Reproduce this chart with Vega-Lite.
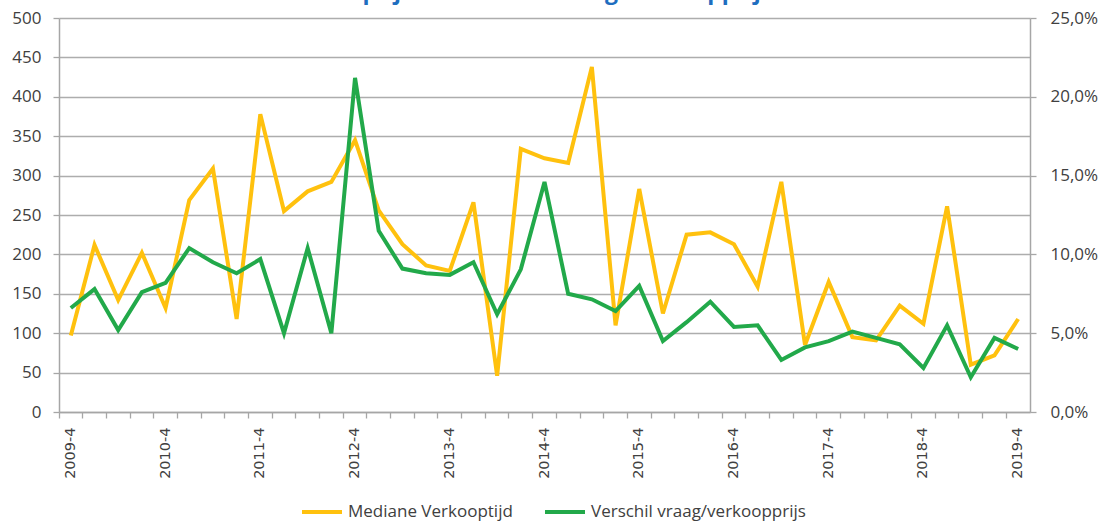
{
  "$schema": "https://vega.github.io/schema/vega-lite/v6.json",
  "width": 971,
  "height": 394,
  "autosize": {"type": "none"},
  "padding": {"left": 59, "top": 18, "right": 68, "bottom": 111},
  "background": "white",
  "title": {
    "text": "Verkooptijd en Verschil vraag/verkoopprijs",
    "fontSize": 23,
    "font": "Open Sans",
    "fontWeight": "bold",
    "color": "#1F6EBF",
    "anchor": "middle",
    "frame": "group",
    "baseline": "alphabetic",
    "offset": -13,
    "dx": -18
  },
  "config": {
    "view": {"stroke": null},
    "font": "Open Sans"
  },
  "data": {
    "values": [
      {"kwartaal": "2009-4", "tijd": 97, "verschil": 6.6},
      {"kwartaal": "2010-1", "tijd": 212, "verschil": 7.8},
      {"kwartaal": "2010-2", "tijd": 142, "verschil": 5.2},
      {"kwartaal": "2010-3", "tijd": 202, "verschil": 7.6},
      {"kwartaal": "2010-4", "tijd": 132, "verschil": 8.2},
      {"kwartaal": "2011-1", "tijd": 269, "verschil": 10.4},
      {"kwartaal": "2011-2", "tijd": 309, "verschil": 9.5},
      {"kwartaal": "2011-3", "tijd": 118, "verschil": 8.8},
      {"kwartaal": "2011-4", "tijd": 378, "verschil": 9.7},
      {"kwartaal": "2012-1", "tijd": 255, "verschil": 5.0},
      {"kwartaal": "2012-2", "tijd": 280, "verschil": 10.4},
      {"kwartaal": "2012-3", "tijd": 292, "verschil": 5.0},
      {"kwartaal": "2012-4", "tijd": 345, "verschil": 21.2},
      {"kwartaal": "2013-1", "tijd": 256, "verschil": 11.5},
      {"kwartaal": "2013-2", "tijd": 213, "verschil": 9.1},
      {"kwartaal": "2013-3", "tijd": 186, "verschil": 8.8},
      {"kwartaal": "2013-4", "tijd": 179, "verschil": 8.7},
      {"kwartaal": "2014-1", "tijd": 266, "verschil": 9.5},
      {"kwartaal": "2014-2", "tijd": 46, "verschil": 6.2},
      {"kwartaal": "2014-3", "tijd": 334, "verschil": 9.05},
      {"kwartaal": "2014-4", "tijd": 322, "verschil": 14.6},
      {"kwartaal": "2015-1", "tijd": 316, "verschil": 7.5},
      {"kwartaal": "2015-2", "tijd": 438, "verschil": 7.15},
      {"kwartaal": "2015-3", "tijd": 110, "verschil": 6.4},
      {"kwartaal": "2015-4", "tijd": 283, "verschil": 8.0},
      {"kwartaal": "2016-1", "tijd": 125, "verschil": 4.5},
      {"kwartaal": "2016-2", "tijd": 225, "verschil": 5.7},
      {"kwartaal": "2016-3", "tijd": 228, "verschil": 7.0},
      {"kwartaal": "2016-4", "tijd": 213, "verschil": 5.4},
      {"kwartaal": "2017-1", "tijd": 159, "verschil": 5.5},
      {"kwartaal": "2017-2", "tijd": 292, "verschil": 3.3},
      {"kwartaal": "2017-3", "tijd": 85, "verschil": 4.1},
      {"kwartaal": "2017-4", "tijd": 165, "verschil": 4.5},
      {"kwartaal": "2018-1", "tijd": 95, "verschil": 5.1},
      {"kwartaal": "2018-2", "tijd": 91, "verschil": 4.7},
      {"kwartaal": "2018-3", "tijd": 135, "verschil": 4.3},
      {"kwartaal": "2018-4", "tijd": 112, "verschil": 2.8},
      {"kwartaal": "2019-1", "tijd": 261, "verschil": 5.5},
      {"kwartaal": "2019-2", "tijd": 60, "verschil": 2.2},
      {"kwartaal": "2019-3", "tijd": 72, "verschil": 4.7},
      {"kwartaal": "2019-4", "tijd": 118, "verschil": 4.0}
    ]
  },
  "encoding": {
    "x": {
      "field": "kwartaal",
      "type": "ordinal",
      "sort": null,
      "scale": {"type": "band", "paddingInner": 0, "paddingOuter": 0},
      "axis": {
        "title": null,
        "orient": "bottom",
        "bandPosition": 0,
        "labelOffset": 0,
        "labelAngle": -90,
        "labelAlign": "right",
        "labelBaseline": "middle",
        "labelFont": "DejaVu Sans",
        "labelFontSize": 14.5,
        "labelColor": "#404040",
        "labelPadding": 9,
        "labelExpr": "slice(datum.value, -1) == '4' ? datum.value : ''",
        "tickSize": 6,
        "tickColor": "#A6A6A6",
        "tickWidth": 1.3,
        "domainColor": "#A6A6A6",
        "domainWidth": 1.5,
        "grid": false,
        "labelOverlap": false
      }
    }
  },
  "layer": [
    {
      "mark": {"type": "line", "strokeWidth": 4, "strokeJoin": "miter"},
      "encoding": {
        "y": {
          "field": "tijd",
          "type": "quantitative",
          "scale": {"domain": [0, 500], "nice": false},
          "axis": {
            "title": null,
            "values": [0, 50, 100, 150, 200, 250, 300, 350, 400, 450, 500],
            "grid": true,
            "gridColor": "#ADADAD",
            "gridWidth": 1.4,
            "domainColor": "#A6A6A6",
            "domainWidth": 1.5,
            "tickColor": "#A6A6A6",
            "tickWidth": 1.3,
            "tickSize": 6,
            "labelPadding": 12,
            "labelFontSize": 17,
            "labelFont": "Open Sans",
            "labelColor": "#404040"
          }
        },
        "color": {
          "datum": "Mediane Verkooptijd",
          "type": "nominal",
          "scale": {
            "domain": ["Mediane Verkooptijd", "Verschil vraag/verkoopprijs"],
            "range": ["#FFC10E", "#22A94A"]
          },
          "legend": {
            "title": null,
            "orient": "none",
            "direction": "horizontal",
            "legendX": 241,
            "legendY": 472,
            "symbolType": "stroke",
            "symbolSize": 1600,
            "symbolStrokeWidth": 4,
            "labelFontSize": 17,
            "labelFont": "Open Sans",
            "labelColor": "#404040",
            "labelOffset": 4,
            "labelLimit": 0,
            "columnPadding": 24
          }
        }
      }
    },
    {
      "mark": {"type": "line", "strokeWidth": 4, "strokeJoin": "miter"},
      "encoding": {
        "y": {
          "field": "verschil",
          "type": "quantitative",
          "scale": {"domain": [0, 25], "nice": false},
          "axis": {
            "title": null,
            "orient": "right",
            "values": [0, 5, 10, 15, 20, 25],
            "labelExpr": "replace(format(datum.value, '.1f'), '.', ',') + '%'",
            "grid": false,
            "domainColor": "#A6A6A6",
            "domainWidth": 1.5,
            "tickColor": "#A6A6A6",
            "tickWidth": 1.3,
            "tickSize": 6,
            "labelPadding": 14,
            "labelFontSize": 17,
            "labelFont": "Open Sans",
            "labelColor": "#404040"
          }
        },
        "color": {"datum": "Verschil vraag/verkoopprijs", "type": "nominal"}
      }
    }
  ],
  "resolve": {"scale": {"y": "independent"}}
}
